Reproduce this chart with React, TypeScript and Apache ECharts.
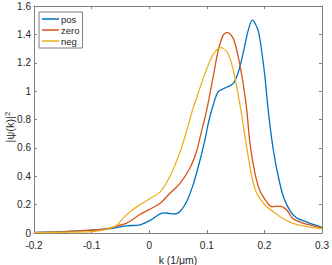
import React, { useEffect, useRef } from "react";
import * as echarts from "echarts";

const posK = [-0.2, -0.15, -0.1, -0.07, -0.04, -0.016, 0.0, 0.019, 0.027, 0.036, 0.045, 0.0535, 0.065, 0.077, 0.088, 0.097, 0.103, 0.111, 0.12, 0.1345, 0.146, 0.155, 0.163, 0.172, 0.179, 0.189, 0.195, 0.201, 0.207, 0.2155, 0.224, 0.233, 0.244, 0.255, 0.268, 0.285, 0.3];
const posY = [0.005, 0.01, 0.02, 0.03, 0.05, 0.058, 0.085, 0.135, 0.142, 0.137, 0.134, 0.152, 0.22, 0.35, 0.51, 0.66, 0.78, 0.9, 0.996, 1.027, 1.055, 1.137, 1.266, 1.43, 1.5, 1.43, 1.29, 1.1, 0.85, 0.585, 0.4, 0.256, 0.16, 0.11, 0.085, 0.06, 0.04];

const zeroK = [-0.2, -0.15, -0.1, -0.08, -0.056, -0.039, -0.016, 0.0, 0.019, 0.036, 0.0535, 0.071, 0.0825, 0.091, 0.1, 0.111, 0.12, 0.1286, 0.1356, 0.146, 0.1547, 0.163, 0.169, 0.175, 0.1837, 0.192, 0.204, 0.2127, 0.227, 0.2387, 0.25, 0.268, 0.285, 0.3];
const zeroY = [0.003, 0.008, 0.02, 0.025, 0.05, 0.07, 0.13, 0.165, 0.21, 0.28, 0.35, 0.46, 0.58, 0.72, 0.87, 1.1, 1.29, 1.395, 1.414, 1.37, 1.24, 1.055, 0.88, 0.63, 0.42, 0.3, 0.22, 0.185, 0.19, 0.162, 0.1, 0.068, 0.05, 0.035];

const negK = [-0.2, -0.15, -0.1, -0.08, -0.068, -0.056, -0.045, -0.033, -0.016, 0.0, 0.019, 0.036, 0.0535, 0.065, 0.074, 0.085, 0.097, 0.1085, 0.117, 0.124, 0.1345, 0.143, 0.152, 0.1606, 0.169, 0.178, 0.1866, 0.201, 0.2155, 0.233, 0.25, 0.2735, 0.3];
const negY = [0.002, 0.005, 0.01, 0.02, 0.033, 0.056, 0.105, 0.15, 0.2, 0.24, 0.29, 0.4, 0.57, 0.72, 0.85, 0.985, 1.125, 1.24, 1.29, 1.306, 1.28, 1.196, 1.03, 0.83, 0.61, 0.4, 0.28, 0.197, 0.15, 0.1, 0.068, 0.045, 0.03];

const seriesNames = ["pos", "zero", "neg"];
const seriesColors = ["#0072BD", "#D95319", "#EDB120"];

const zip = (k: number[], y: number[]) => k.map((v, i) => [v, y[i]]);

export default function App() {
  const ref = useRef<HTMLDivElement>(null);
  useEffect(() => {
    if (!ref.current) return;
    const chart = echarts.init(ref.current, undefined, { renderer: "svg" });
    const axisColor = "#262626";
    const font = "Liberation Sans, Arial, sans-serif";
    const xCommon = {
      type: "value" as const,
      min: -0.2,
      max: 0.3,
      interval: 0.1,
      axisLine: { show: true, onZero: false, lineStyle: { color: "#808080", width: 1 } },
      axisTick: { show: true, inside: true, length: 3, lineStyle: { color: "#808080" } },
      splitLine: { show: false },
    };
    const yCommon = {
      type: "value" as const,
      min: 0,
      max: 1.6,
      interval: 0.2,
      axisLine: { show: true, onZero: false, lineStyle: { color: "#808080", width: 1 } },
      axisTick: { show: true, inside: true, length: 3, lineStyle: { color: "#808080" } },
      splitLine: { show: false },
    };
    const datasets = [zip(posK, posY), zip(zeroK, zeroY), zip(negK, negY)];
    chart.setOption({
      animation: false,
      grid: { left: 34, right: 10, top: 6, bottom: 32, containLabel: false, outerBoundsMode: "none" },
      legend: {
        orient: "vertical",
        left: 39,
        top: 12,
        data: seriesNames,
        icon: "rect",
        itemWidth: 17,
        itemHeight: 1.5,
        itemGap: 1,
        padding: [2, 3, 2, 3],
        borderColor: "#808080",
        borderWidth: 1,
        backgroundColor: "#ffffff",
        textStyle: { fontFamily: font, fontSize: 9.5, color: axisColor, padding: [0, 0, 0, -3] },
      },
      graphic: [
        {
          type: "text",
          x: 10,
          y: 127,
          rotation: Math.PI / 2,
          style: {
            text: "|ψ(k)|{sup|2}",
            fontFamily: font,
            fontSize: 11,
            fill: axisColor,
            align: "center",
            verticalAlign: "middle",
            rich: {
              sup: { fontFamily: font, fontSize: 8, fill: axisColor, verticalAlign: "top", padding: [0, 0, 6, 0] },
            },
          },
        },
      ],
      xAxis: [
        {
          ...xCommon,
          position: "bottom",
          name: "k (1/μm)",
          nameLocation: "middle",
          nameGap: 18,
          nameTextStyle: { fontFamily: font, fontSize: 10.5, color: axisColor },
          axisLabel: { fontFamily: font, fontSize: 10, color: axisColor, margin: 7, showMinLabel: true, showMaxLabel: true },
        },
        { ...xCommon, position: "top", axisLabel: { show: false } },
      ],
      yAxis: [
        {
          ...yCommon,
          position: "left",
          axisLabel: { fontFamily: font, fontSize: 10, color: axisColor, margin: 3, showMinLabel: true, showMaxLabel: true },
        },
        { ...yCommon, position: "right", axisLabel: { show: false } },
      ],
      series: seriesNames.map((name, i) => ({
        name,
        type: "line",
        xAxisIndex: 0,
        yAxisIndex: 0,
        data: datasets[i],
        smooth: 0.3,
        showSymbol: false,
        symbol: "none",
        lineStyle: { color: seriesColors[i], width: 1.3 },
        itemStyle: { color: seriesColors[i] },
      })),
    });
    return () => chart.dispose();
  }, []);
  return <div ref={ref} style={{ width: 332, height: 265, position: "absolute", left: 0, top: 0 }} />;
}
